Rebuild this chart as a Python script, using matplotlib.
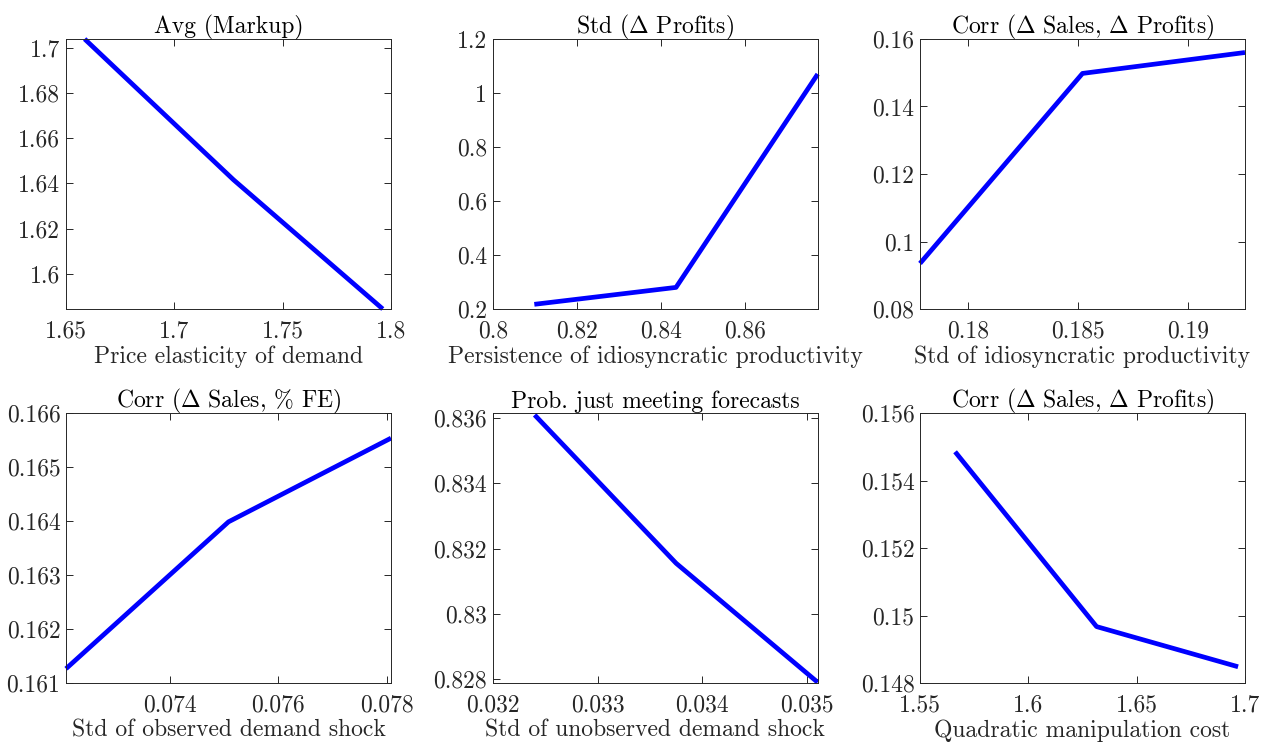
import numpy as np
import matplotlib
matplotlib.use("Agg")
import matplotlib.pyplot as plt
from matplotlib.ticker import FuncFormatter

plt.rcParams['font.family'] = 'cmr10'
plt.rcParams['mathtext.fontset'] = 'cm'
plt.rcParams['axes.formatter.use_mathtext'] = True

# comparative statics: baseline parameter +/- 4%
titles = ['Avg (Markup)', r'Std ($\Delta$ Profits)', r'Corr ($\Delta$ Sales, $\Delta$ Profits)',
          r'Corr ($\Delta$ Sales, % FE)', 'Prob. just meeting forecasts',
          r'Corr ($\Delta$ Sales, $\Delta$ Profits)']
xlabels = ['Price elasticity of demand', 'Persistence of idiosyncratic productivity',
           'Std of idiosyncratic productivity', 'Std of observed demand shock',
           'Std of unobserved demand shock', 'Quadratic manipulation cost']

x_elast = [1.6586, 1.7273, 1.7962]
y_markup = [1.7038, 1.6416, 1.5845]

x_persist = [0.8099, 0.8436, 0.8773]
y_std_profits = [0.2173, 0.2800, 1.0700]

x_std_prod = [0.1778, 0.1852, 0.1926]
y_corr_prod = [0.0935, 0.1498, 0.1560]

x_obs = [0.07208, 0.07508, 0.07808]
y_corr_fe = [0.16127, 0.16399, 0.16554]

x_unobs = [0.03240, 0.03375, 0.03510]
y_prob_meet = [0.83610, 0.83155, 0.82790]

x_manip = [1.5662, 1.6315, 1.6968]
y_corr_manip = [0.15486, 0.14968, 0.14849]

xs = [x_elast, x_persist, x_std_prod, x_obs, x_unobs, x_manip]
ys = [y_markup, y_std_profits, y_corr_prod, y_corr_fe, y_prob_meet, y_corr_manip]

xticks = [[1.65, 1.7, 1.75, 1.8], [0.8, 0.82, 0.84, 0.86], [0.18, 0.185, 0.19],
          [0.074, 0.076, 0.078], [0.032, 0.033, 0.034, 0.035], [1.55, 1.6, 1.65, 1.7]]
yticks = [[1.6, 1.62, 1.64, 1.66, 1.68, 1.7], [0.2, 0.4, 0.6, 0.8, 1, 1.2],
          [0.08, 0.1, 0.12, 0.14, 0.16],
          [0.161, 0.162, 0.163, 0.164, 0.165, 0.166],
          [0.828, 0.83, 0.832, 0.834, 0.836],
          [0.148, 0.15, 0.152, 0.154, 0.156]]
xlims = [(1.65, 1.8), (0.8, 0.8773), (0.1778, 0.1926), (0.07208, 0.07808),
         (0.032, 0.0351), (1.55, 1.7)]
ylims = [(1.5845, 1.7038), (0.2, 1.2), (0.08, 0.16), (0.161, 0.166),
         (0.82787, 0.83615), (0.148, 0.156)]

W, H = 1270, 745
fig = plt.figure(figsize=(W / 100, H / 100), dpi=100)

lefts = [66, 492.7, 920]
tops = [39, 413.3]
aw, ah = 325, 270

fmt = FuncFormatter(lambda v, p: ('%g' % v))

for i in range(6):
    r, c = divmod(i, 3)
    ax = fig.add_axes([lefts[c] / W, 1 - (tops[r] + ah) / H, aw / W, ah / H])
    ax.plot(xs[i], ys[i], color='#0000ff', lw=3.4, solid_capstyle='butt', clip_on=False)
    ax.set_xlim(*xlims[i])
    ax.set_ylim(*ylims[i])
    ax.set_xticks(xticks[i])
    ax.set_yticks(yticks[i])
    ax.xaxis.set_major_formatter(fmt)
    ax.yaxis.set_major_formatter(fmt)
    ax.tick_params(direction='in', top=True, right=True, length=5, width=0.7,
                   labelsize=17, colors='#262626')
    ax.tick_params(axis='x', pad=8)
    ax.tick_params(axis='y', pad=4)
    for s in ax.spines.values():
        s.set_color('#262626')
        s.set_linewidth(0.7)
    ax.set_title(titles[i], fontsize=17, color='black', pad=4)
    ax.set_xlabel(xlabels[i], fontsize=17, color='#262626', labelpad=2)

fig.savefig('out.png', dpi=100)
